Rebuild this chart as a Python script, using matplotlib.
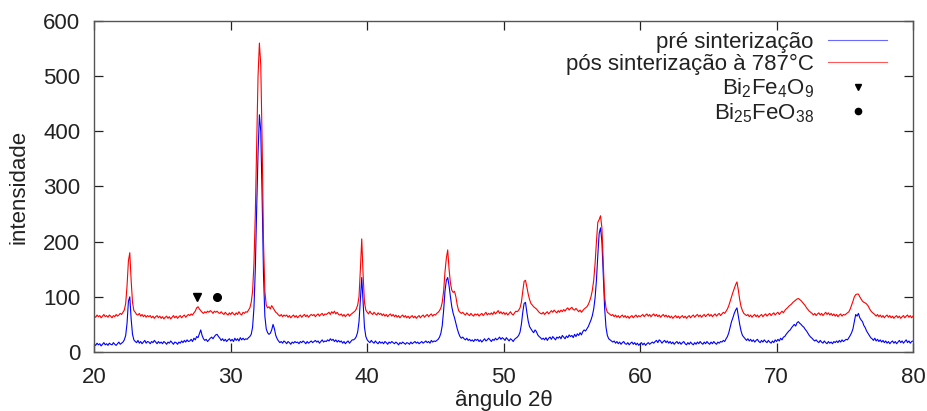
import numpy as np
import matplotlib
matplotlib.use("Agg")
import matplotlib.pyplot as plt
from matplotlib.lines import Line2D

plt.rcParams['font.family'] = ['Liberation Sans', 'DejaVu Sans']
plt.rcParams['mathtext.fontset'] = 'custom'
plt.rcParams['mathtext.rm'] = 'Liberation Sans'

# intensity values sampled every 0.1 degree from 20.0 to 80.0 (one row per degree)
pre_sinterizacao = [
    14, 12, 16, 13, 15, 11, 14, 17, 13, 15,
    12, 16, 14, 13, 17, 14, 12, 15, 18, 14,
    16, 18, 22, 30, 52, 92, 100, 60, 32, 22,
    19, 17, 21, 16, 19, 15, 18, 21, 16, 19,
    18, 15, 19, 17, 21, 18, 15, 19, 16, 18,
    15, 19, 17, 14, 18, 16, 20, 17, 14, 18,
    17, 14, 18, 16, 20, 17, 21, 18, 22, 19,
    20, 23, 19, 25, 22, 28, 26, 33, 40, 30,
    24, 21, 23, 19, 22, 25, 27, 24, 28, 31,
    32, 28, 25, 21, 24, 20, 23, 19, 22, 24,
    20, 23, 19, 25, 21, 24, 20, 26, 22, 25,
    22, 24, 23, 26, 28, 32, 45, 80, 150, 260,
    360, 430, 400, 280, 140, 65, 42, 35, 32, 34,
    40, 50, 42, 30, 24, 20, 17, 19, 16, 20,
    18, 15, 19, 17, 14, 18, 16, 19, 17, 18,
    15, 19, 17, 20, 18, 15, 19, 16, 18, 20,
    17, 19, 21, 18, 20, 16, 19, 22, 18, 20,
    19, 22, 20, 24, 21, 23, 19, 22, 18, 21,
    18, 20, 16, 19, 15, 18, 20, 16, 19, 22,
    22, 24, 28, 36, 55, 95, 135, 90, 45, 28,
    22, 19, 17, 21, 18, 16, 20, 17, 15, 19,
    16, 18, 15, 19, 17, 14, 18, 16, 19, 17,
    15, 18, 16, 13, 17, 15, 18, 16, 14, 17,
    16, 14, 18, 15, 17, 19, 16, 18, 15, 17,
    19, 16, 18, 20, 17, 19, 16, 21, 18, 20,
    19, 21, 23, 27, 34, 48, 75, 110, 130, 135,
    120, 100, 82, 70, 62, 52, 42, 34, 28, 25,
    27, 24, 22, 25, 21, 23, 20, 22, 19, 23,
    21, 23, 19, 22, 18, 21, 24, 20, 22, 25,
    22, 19, 23, 21, 25, 22, 24, 27, 23, 26,
    24, 21, 26, 23, 20, 24, 22, 19, 23, 25,
    27, 30, 36, 50, 72, 88, 90, 72, 56, 46,
    42, 38, 35, 40, 37, 31, 28, 26, 23, 25,
    22, 26, 21, 25, 27, 23, 28, 25, 22, 27,
    25, 28, 24, 30, 27, 24, 29, 26, 31, 28,
    30, 26, 32, 28, 33, 30, 35, 31, 37, 40,
    38, 42, 46, 52, 58, 66, 78, 98, 130, 175,
    215, 225, 200, 140, 80, 45, 30, 24, 22, 20,
    18, 20, 16, 19, 15, 18, 14, 17, 19, 15,
    14, 17, 13, 16, 18, 14, 17, 13, 16, 12,
    15, 17, 13, 16, 12, 15, 17, 14, 16, 18,
    16, 19, 21, 17, 22, 20, 16, 19, 21, 17,
    20, 16, 19, 15, 18, 14, 17, 19, 15, 18,
    14, 17, 19, 15, 13, 17, 14, 18, 15, 13,
    17, 14, 18, 15, 19, 16, 14, 18, 15, 19,
    16, 14, 18, 15, 19, 16, 14, 18, 16, 19,
    18, 21, 19, 24, 28, 35, 45, 55, 62, 70,
    76, 80, 65, 50, 38, 30, 27, 24, 21, 24,
    20, 23, 19, 22, 18, 21, 23, 19, 17, 21,
    18, 22, 19, 17, 21, 18, 16, 20, 17, 22,
    19, 23, 20, 25, 22, 27, 28, 32, 35, 38,
    40, 44, 47, 50, 47, 53, 55, 52, 50, 47,
    45, 41, 38, 34, 30, 27, 25, 22, 20, 22,
    19, 17, 21, 18, 16, 20, 17, 15, 19, 16,
    18, 15, 19, 17, 20, 17, 21, 18, 22, 19,
    21, 23, 22, 26, 30, 35, 42, 55, 68, 65,
    70, 62, 58, 55, 48, 44, 38, 34, 30, 26,
    24, 21, 25, 20, 23, 19, 22, 18, 21, 17,
    20, 16, 19, 15, 18, 20, 16, 19, 15, 18,
    21, 17, 20, 16, 19, 22, 17, 20, 16, 19,
    20,
]

pos_sinterizacao = [
    65, 63, 67, 64, 66, 62, 65, 68, 64, 66,
    63, 67, 65, 62, 66, 64, 68, 65, 67, 70,
    68, 72, 76, 88, 120, 165, 180, 130, 90, 75,
    72, 68, 67, 70, 65, 68, 64, 67, 63, 66,
    64, 66, 62, 65, 61, 64, 66, 62, 65, 61,
    64, 60, 63, 65, 61, 64, 60, 63, 66, 62,
    65, 61, 64, 66, 62, 65, 67, 63, 66, 68,
    66, 69, 67, 71, 74, 80, 82, 78, 75, 72,
    70, 73, 71, 74, 72, 75, 73, 70, 74, 72,
    74, 71, 70, 73, 70, 68, 72, 69, 67, 71,
    68, 72, 69, 67, 71, 68, 73, 69, 67, 72,
    70, 73, 72, 76, 80, 90, 110, 160, 250, 380,
    500, 560, 520, 380, 200, 110, 85, 80, 82, 78,
    84, 80, 76, 72, 70, 67, 65, 68, 64, 67,
    65, 67, 63, 66, 62, 65, 67, 63, 66, 62,
    65, 67, 63, 66, 68, 64, 67, 63, 66, 68,
    66, 68, 64, 67, 69, 65, 68, 70, 66, 69,
    68, 70, 72, 68, 73, 70, 74, 69, 72, 68,
    67, 69, 65, 68, 64, 67, 69, 65, 68, 70,
    72, 74, 78, 85, 100, 150, 205, 140, 90, 76,
    72, 69, 74, 70, 68, 72, 69, 67, 71, 68,
    70, 66, 69, 65, 68, 64, 67, 69, 65, 68,
    64, 67, 63, 66, 62, 65, 67, 63, 66, 62,
    65, 61, 64, 66, 62, 65, 61, 64, 66, 62,
    65, 67, 63, 66, 68, 64, 67, 69, 65, 68,
    67, 70, 72, 75, 80, 90, 110, 145, 170, 185,
    150, 125, 112, 108, 110, 100, 85, 75, 72, 70,
    72, 69, 67, 71, 68, 66, 70, 67, 65, 69,
    67, 69, 65, 68, 70, 66, 69, 72, 67, 70,
    68, 71, 68, 73, 69, 72, 75, 70, 73, 69,
    72, 68, 71, 67, 70, 73, 69, 67, 71, 74,
    73, 76, 80, 90, 110, 128, 130, 118, 105, 95,
    88, 85, 82, 80, 78, 75, 72, 70, 69, 72,
    68, 71, 73, 69, 72, 75, 72, 76, 73, 71,
    75, 72, 76, 73, 77, 74, 78, 80, 76, 79,
    81, 77, 76, 79, 76, 73, 76, 72, 75, 78,
    80, 82, 86, 92, 100, 112, 130, 160, 200, 235,
    240, 247, 225, 160, 100, 80, 72, 70, 68, 66,
    68, 64, 67, 63, 66, 62, 65, 67, 63, 66,
    62, 65, 61, 64, 66, 62, 65, 67, 63, 66,
    64, 66, 68, 64, 67, 69, 65, 68, 64, 67,
    69, 65, 68, 64, 67, 63, 66, 68, 64, 67,
    63, 66, 62, 65, 61, 64, 66, 62, 65, 61,
    64, 66, 62, 65, 61, 64, 66, 62, 65, 67,
    63, 66, 68, 64, 67, 63, 66, 68, 64, 67,
    69, 65, 68, 64, 67, 69, 65, 68, 70, 66,
    69, 72, 70, 74, 78, 84, 92, 100, 108, 115,
    122, 127, 112, 95, 82, 75, 70, 68, 66, 68,
    64, 67, 63, 66, 68, 64, 67, 63, 66, 68,
    64, 67, 69, 65, 68, 70, 66, 69, 71, 67,
    70, 72, 68, 71, 74, 71, 75, 78, 80, 83,
    85, 87, 90, 92, 94, 96, 97, 95, 93, 90,
    87, 84, 80, 77, 74, 72, 70, 67, 70, 66,
    69, 71, 67, 70, 66, 69, 72, 68, 71, 67,
    70, 66, 69, 65, 68, 64, 67, 69, 65, 68,
    67, 69, 71, 73, 78, 85, 92, 100, 104, 105,
    105, 100, 96, 92, 90, 89, 87, 84, 79, 75,
    72, 70, 68, 65, 68, 64, 67, 63, 66, 62,
    65, 67, 63, 66, 62, 65, 61, 64, 66, 62,
    65, 61, 64, 66, 62, 65, 67, 63, 66, 62,
    65,
]

angulo_2theta = np.linspace(20, 80, len(pre_sinterizacao))
angulo_2theta_pos = np.linspace(20, 80, len(pos_sinterizacao))

# phase markers
bi2fe4o9_x = [27.55]
bi2fe4o9_y = [100]
bi25feo38_x = [29.0]
bi25feo38_y = [100]

labels = ["pré sinterização", "pós sinterização à 787°C",
          r"$\mathregular{Bi_2Fe_4O_9}$", r"$\mathregular{Bi_{25}FeO_{38}}$"]

FS = 16

fig = plt.figure(figsize=(9.28, 4.11), dpi=100)
ax = fig.add_axes([94.3/928, 1-352/411, (913-94.3)/928, (352-21)/411])

ax.plot(angulo_2theta, pre_sinterizacao, color='#0000ff', lw=0.8)
ax.plot(angulo_2theta_pos, pos_sinterizacao, color='#ff0000', lw=0.8)
ax.plot(bi2fe4o9_x, bi2fe4o9_y, 'v', color='black', ms=5.5)
ax.plot(bi25feo38_x, bi25feo38_y, 'o', color='black', ms=5.5)

ax.set_xlim(20, 80)
ax.set_ylim(0, 600)
ax.set_xticks([20, 30, 40, 50, 60, 70, 80])
ax.set_yticks([0, 100, 200, 300, 400, 500, 600])
ax.tick_params(direction='in', length=6.5, width=0.9, top=True, right=True,
               labelsize=FS, colors='#222222')
ax.tick_params(axis='y', pad=10)
ax.tick_params(axis='x', pad=10.5)
for s in ax.spines.values():
    s.set_color('#555555')
    s.set_linewidth(1.0)

ax.set_xlabel("ângulo 2θ", fontsize=FS, color='#222222')
ax.xaxis.set_label_coords(0.5, -(390 - 352) / 331)
ax.set_ylabel("intensidade", fontsize=FS, color='#222222')
ax.yaxis.set_label_coords(-(94.3 - 30) / 818.7, 0.5)

handles = [Line2D([], [], color='#6a6aff', lw=0.8),
           Line2D([], [], color='#ff5a5a', lw=0.8),
           Line2D([], [], ls='none', marker='v', color='black', ms=4.5),
           Line2D([], [], ls='none', marker='o', color='black', ms=4.5)]
leg = ax.legend(handles, labels, loc='upper right', markerfirst=False, frameon=False,
                fontsize=FS, handlelength=2.65, handletextpad=0.65, labelspacing=0.05,
                borderpad=0, borderaxespad=0, numpoints=1,
                bbox_to_anchor=(887/928, 1-32/411), bbox_transform=fig.transFigure)
for t in leg.get_texts():
    t.set_color('#222222')

fig.savefig("out.png", dpi=100)
